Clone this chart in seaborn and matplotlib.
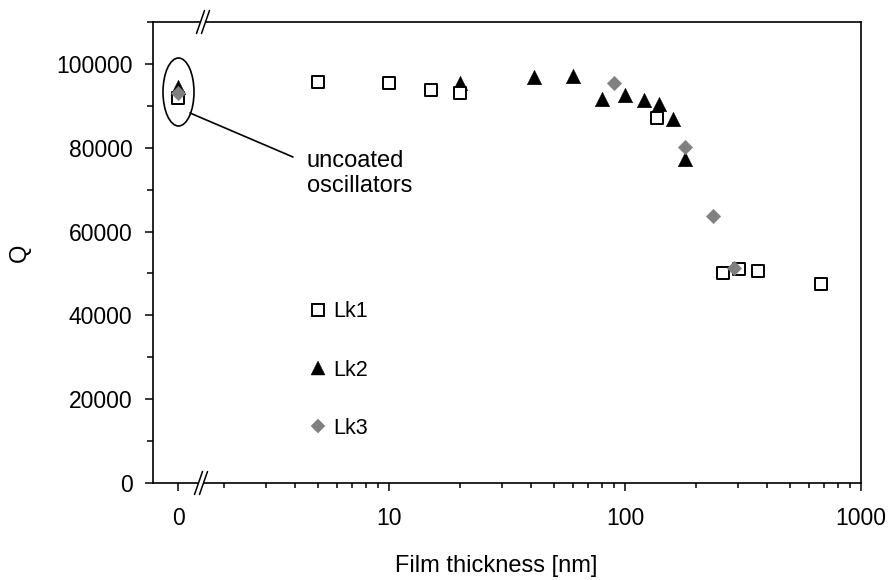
import numpy as np
import pandas as pd
import seaborn as sns
import matplotlib
matplotlib.use("Agg")
import matplotlib.pyplot as plt
from matplotlib.patches import Ellipse, Polygon
from matplotlib.lines import Line2D
from matplotlib.ticker import FixedLocator, FixedFormatter, NullFormatter, LogLocator, MultipleLocator, FuncFormatter

# ---------------- data ----------------
lk1_thickness = [0, 5, 10, 15, 20, 137, 261, 305, 365, 676]
lk1_q = [91900, 95700, 95500, 93800, 93100, 87100, 50000, 51000, 50500, 47600]
lk2_thickness = [0, 20, 41, 60, 80, 100, 120, 140, 160, 180]
lk2_q = [94500, 95500, 96900, 97000, 91700, 92600, 91400, 90500, 86900, 77400]
lk3_thickness = [0, 90, 180, 237, 291]
lk3_q = [93100, 95500, 80200, 63600, 51200]

x_tick_labels = ["0", "10", "100", "1000"]
y_ticks = [0, 20000, 40000, 60000, 80000, 100000]

ZERO_POS = 1.28  # where thickness "0" sits on the broken log axis


def to_plot_x(vals):
    return [ZERO_POS if v == 0 else v for v in vals]


df = pd.concat([
    pd.DataFrame({"thickness": lk1_thickness, "Q": lk1_q, "series": "Lk1"}),
    pd.DataFrame({"thickness": lk2_thickness, "Q": lk2_q, "series": "Lk2"}),
    pd.DataFrame({"thickness": lk3_thickness, "Q": lk3_q, "series": "Lk3"}),
], ignore_index=True)
df["xpos"] = to_plot_x(df["thickness"].tolist())

# ---------------- style ----------------
sns.set_theme(style="white")
plt.rcParams["font.family"] = ["Liberation Sans", "DejaVu Sans"]

W, H = 889, 580
AX_L, AX_R, AX_T, AX_B = 153, 861, 22, 483
AXW, AXH = AX_R - AX_L, AX_B - AX_T

fig = plt.figure(figsize=(W / 100, H / 100), dpi=100)
ax = fig.add_axes([AX_L / W, 1 - AX_B / H, AXW / W, AXH / H])

GRAY = "#808080"
styles = {
    "Lk1": dict(marker="s", s=64, facecolor="white", edgecolor="black", linewidths=1.4, zorder=3),
    "Lk2": dict(marker="^", s=110, color="black", edgecolor="black", linewidths=0.3, zorder=2),
    "Lk3": dict(marker="D", s=55, color=GRAY, edgecolor=GRAY, linewidths=0.3, zorder=4),
}

for name in ["Lk2", "Lk1", "Lk3"]:
    st = styles[name]
    sub = df[df["series"] == name]
    kw = {k: v for k, v in st.items() if k not in ("zorder",)}
    sns.scatterplot(data=sub, x="xpos", y="Q", ax=ax, legend=False, **kw)
    ax.collections[-1].set_zorder(st["zorder"])

# ---------------- axes ----------------
ax.set_xscale("log")
ax.set_xlim(1, 1000)
ax.set_ylim(0, 110000)

ax.xaxis.set_major_locator(FixedLocator([ZERO_POS, 10, 100, 1000]))
ax.xaxis.set_major_formatter(FixedFormatter(x_tick_labels))
ax.xaxis.set_minor_locator(LogLocator(base=10, subs=np.arange(2, 10)))
ax.xaxis.set_minor_formatter(NullFormatter())

ax.yaxis.set_major_locator(FixedLocator(y_ticks))
ax.yaxis.set_major_formatter(FuncFormatter(lambda v, p: f"{int(v)}"))
ax.yaxis.set_minor_locator(MultipleLocator(10000))

for s in ax.spines.values():
    s.set_color("black")
    s.set_linewidth(1.2)
    s.set_visible(True)

ax.tick_params(axis="both", which="both", direction="out", color="black",
               labelcolor="black", bottom=True, left=True, top=False, right=False)
ax.tick_params(axis="x", which="major", length=6, width=1.1, labelsize=16.5, pad=11)
ax.tick_params(axis="x", which="minor", length=3.8, width=1.1)
ax.tick_params(axis="y", which="major", length=5.8, width=1.1, labelsize=16.5, pad=9)
ax.tick_params(axis="y", which="minor", length=4.3, width=1.1)

ax.set_xlabel("Film thickness [nm]", fontsize=17, color="black")
ax.set_ylabel("Q", fontsize=17, color="black")
ax.xaxis.set_label_coords((496.5 - AX_L) / AXW, (AX_B - 555) / AXH)
ax.yaxis.set_label_coords((20 - AX_L) / AXW, 0.5)
ax.xaxis.label.set_va("top")
ax.yaxis.label.set_va("center")
ax.grid(False)


def fx(px):
    return (px - AX_L) / AXW


def fy(py):
    return (AX_B - py) / AXH


# ---------------- axis break marks ----------------
for cy, cx in [(AX_T, 203), (AX_B, 201)]:
    hh, hw, gap = 11.5, 4.0, 5.0
    x1 = cx - gap / 2
    x2 = cx + gap / 2
    # white gap between the slashes (cut spine)
    poly = Polygon([(fx(x1 - 1.3), fy(cy + 3.5)), (fx(x2 - 1.3), fy(cy + 3.5)),
                    (fx(x2 + 1.3), fy(cy - 3.5)), (fx(x1 + 1.3), fy(cy - 3.5))],
                   closed=True, transform=ax.transAxes, facecolor="white",
                   edgecolor="none", clip_on=False, zorder=10)
    ax.add_patch(poly)
    for xx in (x1, x2):
        ax.add_line(Line2D([fx(xx - hw), fx(xx + hw)], [fy(cy + hh), fy(cy - hh)],
                           transform=ax.transAxes, color="black", lw=1.1,
                           clip_on=False, zorder=11))

# ---------------- annotation ----------------
ell = Ellipse((fx(178.5), fy(92)), width=31 / AXW, height=68 / AXH,
              transform=ax.transAxes, facecolor="none", edgecolor="black", lw=1.2, zorder=5)
ax.add_patch(ell)
ax.add_line(Line2D([fx(190), fx(293)], [fy(113), fy(157)], transform=ax.transAxes,
                   color="black", lw=1.2, zorder=5))
ax.text(fx(307), fy(173.5), "uncoated\noscillators", transform=ax.transAxes,
        ha="left", va="center", fontsize=17, color="black", linespacing=1.15)

# ---------------- legend ----------------
handles = [
    Line2D([], [], linestyle="none", marker="s", markersize=8, markerfacecolor="white",
           markeredgecolor="black", markeredgewidth=1.4),
    Line2D([], [], linestyle="none", marker="^", markersize=10.5, markerfacecolor="black",
           markeredgecolor="black", markeredgewidth=0.3),
    Line2D([], [], linestyle="none", marker="D", markersize=7.4, markerfacecolor=GRAY,
           markeredgecolor=GRAY, markeredgewidth=0.3),
]
leg = ax.legend(handles, ["Lk1", "Lk2", "Lk3"], loc="center left",
                bbox_to_anchor=(fx(307.6), fy(370)), frameon=False, fontsize=15.5,
                handlelength=1.0, handletextpad=0.2, labelspacing=1.72,
                borderpad=0, borderaxespad=0)
for t in leg.get_texts():
    t.set_color("black")

fig.savefig("out.png", dpi=100)
